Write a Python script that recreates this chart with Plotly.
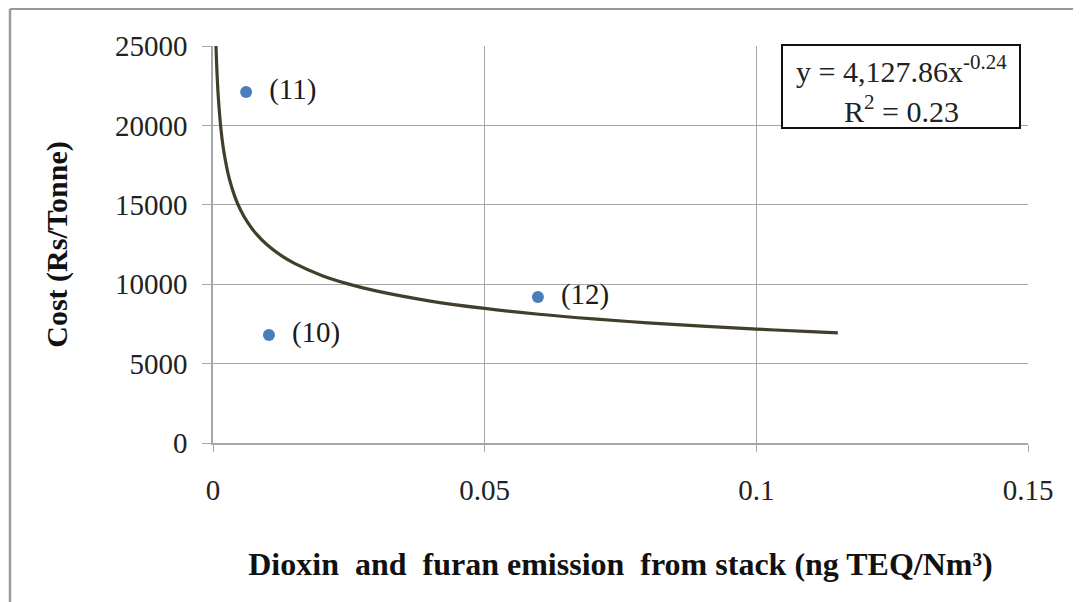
import plotly.graph_objects as go

# Observed points
point_x = [0.0061, 0.0103, 0.0598]
point_y = [22100, 6800, 9200]
point_labels = ["(11)", "(10)", "(12)"]

trend_x = [0.00055, 0.00075, 0.001, 0.0015, 0.002, 0.003, 0.004, 0.005, 0.0065, 0.008,
           0.01, 0.0125, 0.015, 0.02, 0.025, 0.03, 0.04, 0.05, 0.06, 0.07, 0.08,
           0.09, 0.1, 0.11, 0.115]
trend_y = [25000, 23212, 21663, 19653, 18345, 16644, 15533, 14724, 13824, 13151,
           12466, 11816, 11310, 10555, 10005, 9577, 8938, 8472, 8109, 7815, 7569,
           7357, 7173, 7011, 6936]

x_ticks = [0, 0.05, 0.1, 0.15]
x_tick_text = ["0", "0.05", "0.1", "0.15"]
y_ticks = [0, 5000, 10000, 15000, 20000, 25000]
y_tick_text = ["0", "5000", "10000", "15000", "20000", "25000"]

eq_line1 = "y = 4,127.86x<sup>-0.24</sup>"
eq_line2 = "R<sup>2</sup> = 0.23"

x_title = "Dioxin\u00a0\u00a0and\u00a0\u00a0furan emission\u00a0\u00a0from stack (ng TEQ/Nm³)"
y_title = "Cost (Rs/Tonne)"

serif = "Liberation Serif, Times New Roman, serif"

# page offset (body margin) compensation: plot area at x 213..1028, y 46..443 in page pixels
OFF = 8
L, R, T, B = 213 - OFF, 1028 - OFF, 46 - OFF, 443 - OFF
W, H = 1081, 602
PW, PH = R - L, B - T


def px(xp):
    return (xp - OFF - L) / PW


def py(yp):
    return (B - (yp - OFF)) / PH


fig = go.Figure()
fig.add_trace(go.Scatter(x=trend_x, y=trend_y, mode="lines", line=dict(color="#433e2a", width=3.2, shape="spline"),
                         hoverinfo="skip", showlegend=False))
fig.add_trace(go.Scatter(x=point_x, y=point_y, mode="markers+text",
                         text=["\u00a0\u00a0" + t for t in point_labels],
                         textposition="middle right", textfont=dict(family=serif, size=29, color="#1a1a1a"),
                         marker=dict(color="#4a7ebb", size=12), showlegend=False))

fig.update_layout(
    width=W, height=H,
    margin=dict(l=L, r=W - R, t=T, b=H - B),
    paper_bgcolor="white", plot_bgcolor="white",
    xaxis=dict(range=[0, 0.15], tickvals=x_ticks, ticktext=x_tick_text,
               showgrid=True, gridcolor="#a6a6a6", gridwidth=1,
               showline=True, linecolor="#a6a6a6", linewidth=1.5,
               ticks="outside", ticklen=7, tickcolor="#a6a6a6", ticklabelstandoff=13,
               tickfont=dict(family=serif, size=29, color="#222"), zeroline=False,
               title=dict(text=x_title, font=dict(family=serif, size=32, color="#111", weight="bold"), standoff=48)),
    yaxis=dict(range=[0, 25000], tickvals=y_ticks, ticktext=y_tick_text,
               showgrid=True, gridcolor="#a6a6a6", gridwidth=1,
               showline=True, linecolor="#a6a6a6", linewidth=1.5,
               ticks="outside", ticklen=9, tickcolor="#a6a6a6", ticklabelstandoff=9,
               tickfont=dict(family=serif, size=29, color="#222"), zeroline=False,
               title=dict(text=y_title, font=dict(family=serif, size=30, color="#111", weight="bold"), standoff=38)),
    shapes=[
        dict(type="rect", xref="paper", yref="paper", x0=px(782), x1=px(1020), y0=py(128), y1=py(45),
             line=dict(color="#111", width=2), fillcolor="white", layer="above"),
        dict(type="line", xref="paper", yref="paper", x0=px(10), x1=px(10),
             y0=py(9), y1=py(640), line=dict(color="#9a9a9a", width=2.5)),
        dict(type="line", xref="paper", yref="paper", x0=px(10), x1=px(1100),
             y0=py(9), y1=py(9), line=dict(color="#9a9a9a", width=2)),
    ],
    annotations=[
        dict(xref="paper", yref="paper", x=px(901), y=py(69), text=eq_line1, showarrow=False,
             xanchor="center", yanchor="middle", font=dict(family=serif, size=30, color="#222")),
        dict(xref="paper", yref="paper", x=px(901), y=py(109), text=eq_line2, showarrow=False,
             xanchor="center", yanchor="middle", font=dict(family=serif, size=30, color="#222")),
    ],
)

fig.write_html("out.html")
